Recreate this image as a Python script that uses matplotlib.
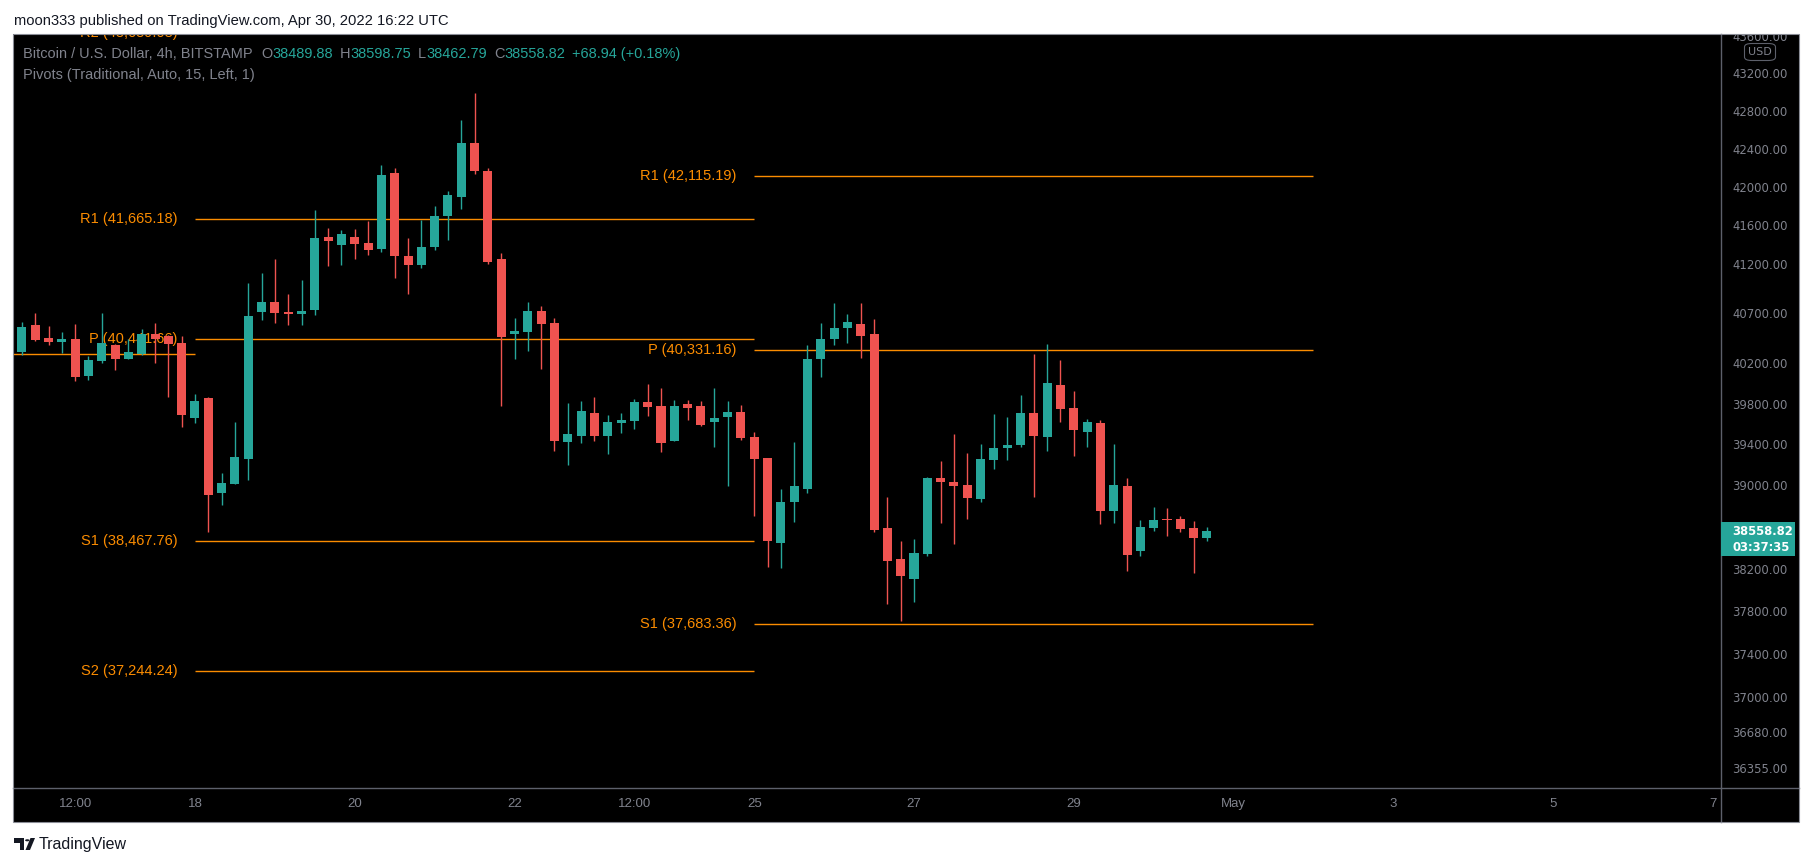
import numpy as np
import pandas as pd
import matplotlib
matplotlib.use("Agg")
import matplotlib.pyplot as plt
import matplotlib.dates as mdates
import matplotlib.transforms as mtransforms
from matplotlib.patches import Rectangle, FancyBboxPatch, Polygon, Circle
from matplotlib.lines import Line2D
from matplotlib.ticker import FixedLocator, FixedFormatter, NullLocator, NullFormatter

# ---------------- data ----------------
start_time = "2022-04-15 20:00"   # first visible 4h bar
opens = [40313, 40584, 40457, 40417, 40443, 40074, 40223, 40383, 40243, 40293,
         40493, 40473, 40403, 39661, 39855, 38930, 39017, 39260, 40719, 40816,
         40715, 40698, 40739, 41480, 41398, 41480, 41418, 41357, 42144, 41285,
         41193, 41377, 41697, 41894, 42459, 42165, 41254, 40493, 40514, 40725,
         40604, 39422, 39481, 39707, 39484, 39612, 39632, 39816, 39776, 39435,
         39796, 39776, 39622, 39671, 39717, 39471, 39266, 38450, 38843, 38969,
         40246, 40447, 40557, 40594, 40493, 38590, 38294, 38108, 38345, 39072,
         39033, 39004, 38872, 39250, 39367, 39396, 39707, 39475, 39984, 39757,
         39524, 39609, 38750, 38994, 38373, 38593, 38679, 38676, 38590, 38489.88]
highs = [40614, 40708, 40577, 40514, 40594, 40273, 40708, 40390, 40443, 40544,
         40604, 40483, 40473, 39895, 39860, 39120, 39619, 41013, 41115, 41254,
         40901, 41040, 41759, 41573, 41552, 41562, 41645, 42228, 42197, 41470,
         41655, 41800, 41956, 42702, 42989, 42197, 41316, 40655, 40816, 40776,
         40655, 39806, 39826, 39865, 39687, 39707, 39845, 39994, 39954, 39836,
         39836, 39826, 39954, 39826, 39786, 39520, 39270, 38965, 39422, 40383,
         40604, 40806, 40695, 40806, 40645, 38888, 38466, 38485, 39080, 39237,
         39501, 39315, 39403, 39697, 39668, 39885, 40293, 40393, 40233, 39925,
         39648, 39638, 39403, 39072, 38667, 38792, 38782, 38705, 38657, 38598.75]
lows = [40286, 40423, 40383, 40306, 40027, 40037, 40206, 40133, 40238, 40283,
        40203, 39868, 39573, 39612, 38555, 38814, 39010, 39056, 40638, 40608,
        40587, 40587, 40688, 41186, 41196, 41258, 41299, 41326, 41064, 40901,
        41166, 41346, 41449, 41769, 42134, 41203, 39780, 40243, 40323, 40143,
        39334, 39198, 39413, 39432, 39308, 39514, 39553, 39681, 39328, 39430,
        39642, 39583, 39377, 38998, 39445, 38708, 38221, 38212, 38651, 38930,
        40067, 40386, 40406, 40256, 38555, 37872, 37713, 37891, 38326, 38641,
        38440, 38679, 38843, 39162, 39250, 39377, 38891, 39338, 39622, 39289,
        39377, 38631, 38641, 38183, 38326, 38564, 38517, 38555, 38164, 38462.79]
closes = [40564, 40433, 40417, 40443, 40067, 40233, 40403, 40243, 40313, 40493,
          40443, 40393, 39691, 39826, 38910, 39023, 39276, 40675, 40816, 40708,
          40698, 40729, 41470, 41439, 41511, 41408, 41346, 42123, 41285, 41193,
          41377, 41697, 41915, 42459, 42169, 41224, 40463, 40524, 40725, 40594,
          39432, 39501, 39727, 39481, 39619, 39638, 39816, 39770, 39416, 39776,
          39760, 39592, 39658, 39717, 39465, 39260, 38469, 38840, 38994, 40243,
          40443, 40554, 40614, 40477, 38574, 38278, 38136, 38351, 39072, 39036,
          38998, 38882, 39256, 39364, 39393, 39707, 39484, 40004, 39750, 39543,
          39619, 38756, 39004, 38335, 38599, 38667, 38670, 38583, 38489.88, 38558.82]

# weekly traditional pivots
week1_start, week1_end = "2022-04-18 00:00", "2022-04-25 00:00"
week1_names = ["R2", "R1", "P", "S1", "S2"]
week1_levels = [43639.08, 41665.18, 40441.66, 38467.76, 37244.24]
week2_start, week2_end = "2022-04-25 00:00", "2022-05-02 00:00"
week2_names = ["R1", "P", "S1"]
week2_levels = [42115.19, 40331.16, 37683.36]
week0_start, week0_end = "2022-04-11 00:00", "2022-04-18 00:00"
week0_levels = [40290.0]           # previous week's pivot (label off-screen)

# axes ticks
price_ticks = [36355, 36680, 37000, 37400, 37800, 38200, 39000, 39400,
               39800, 40200, 40700, 41200, 41600, 42000, 42400, 42800, 43200, 43600]
time_ticks = ["2022-04-16 12:00", "2022-04-18 00:00", "2022-04-20 00:00", "2022-04-22 00:00",
              "2022-04-23 12:00", "2022-04-25 00:00", "2022-04-27 00:00", "2022-04-29 00:00",
              "2022-05-01 00:00", "2022-05-03 00:00", "2022-05-05 00:00", "2022-05-07 00:00"]
time_labels = ["12:00", "18", "20", "22", "12:00", "25", "27", "29", "May", "3", "5", "7"]

header_title = "Bitcoin / U.S. Dollar, 4h, BITSTAMP"
indicator_title = "Pivots (Traditional, Auto, 15, Left, 1)"
publish_text = "moon333 published on TradingView.com, Apr 30, 2022 16:22 UTC"
countdown = "03:37:35"

# ---------------- style ----------------
W, H, DPI = 1813, 866, 100
UP, DOWN = "#26A69A", "#EF5350"
ORANGE = "#FB8C00"
GRAY = "#80838D"
SEP = "#5D606B"
SANS = ["Liberation Sans", "DejaVu Sans"]
AXF = ["DejaVu Sans"]


def fx(px):
    return px / W


def fy(py):
    return 1 - py / H


def dnum(s):
    return mdates.date2num(pd.Timestamp(s).to_pydatetime())


fig = plt.figure(figsize=(W / DPI, H / DPI), dpi=DPI, facecolor="white")

# black panel behind everything
L_PX, R_PX, T_PX, B_PX = 12.7, 1799.3, 34.0, 822.0
AX_R, AX_B = 1720.5, 787.7
fig.add_artist(Rectangle((fx(L_PX), fy(B_PX)), fx(R_PX) - fx(L_PX), fy(T_PX) - fy(B_PX),
                         transform=fig.transFigure, facecolor="black", edgecolor="none", zorder=-5))

ax = fig.add_axes([fx(L_PX), fy(AX_B), fx(AX_R) - fx(L_PX), fy(T_PX) - fy(AX_B)])
ax.set_facecolor("black")
for s in ax.spines.values():
    s.set_visible(False)

# ---------------- candles ----------------
times = pd.date_range(start_time, periods=len(opens), freq="4h")
t = mdates.date2num(times.to_pydatetime())
o = np.array(opens, float); h = np.array(highs, float)
l = np.array(lows, float); c = np.array(closes, float)
up = c >= o
cols = np.where(up, UP, DOWN)
ax.vlines(t, l, h, colors=cols, lw=1.0, zorder=3)
lo = np.minimum(o, c); hi = np.maximum(o, c)
ht = np.maximum(hi - lo, lo * 0.00025)
ax.bar(t, ht, bottom=lo, width=0.113, color=cols, linewidth=0, zorder=4)

# ---------------- pivots ----------------
lab_tr = mtransforms.offset_copy(ax.transData, fig=fig, x=-12.5, y=0, units="points")


def draw_pivots(s, e, names, levels, labels=True):
    x0 = dnum(s); x1 = dnum(e)
    for i, v in enumerate(levels):
        ax.hlines(v, x0, x1, colors=ORANGE, lw=1.0, zorder=2)
        if labels:
            ax.text(x0, v, f"{names[i]} ({v:,.2f})", transform=lab_tr, ha="right", va="center",
                    color=ORANGE, fontsize=10.5, family=SANS, zorder=1.5, clip_on=True)


draw_pivots(week0_start, week0_end, None, week0_levels, labels=False)
draw_pivots(week1_start, week1_end, week1_names, week1_levels)
draw_pivots(week2_start, week2_end, week2_names, week2_levels)

# ---------------- axes ----------------
base = dnum("2022-04-18 00:00")
ax.set_xlim(base - 2.2816, base + 19.095)
ax.set_yscale("log")
ax.set_ylim(36180, 43623)
ax.yaxis.tick_right()
ax.yaxis.set_major_locator(FixedLocator(price_ticks))
ax.yaxis.set_major_formatter(FixedFormatter([f"{v:.2f}" for v in price_ticks]))
ax.yaxis.set_minor_locator(NullLocator())
ax.yaxis.set_minor_formatter(NullFormatter())
ax.tick_params(axis="y", length=0, pad=8.5, labelsize=8.4, labelcolor=GRAY)
for lab in ax.get_yticklabels():
    lab.set_family(AXF)
ax.xaxis.set_major_locator(FixedLocator([dnum(s) for s in time_ticks]))
ax.xaxis.set_major_formatter(FixedFormatter(time_labels))
ax.xaxis.set_minor_locator(NullLocator())
ax.tick_params(axis="x", length=0, pad=7.5, labelsize=9.5, labelcolor=GRAY)
for lab in ax.get_xticklabels():
    lab.set_family(SANS)
ax.grid(False)

# separators and border
fig.add_artist(Line2D([fx(L_PX), fx(R_PX)], [fy(AX_B), fy(AX_B)], transform=fig.transFigure,
                      color=SEP, lw=1.0, zorder=6))
fig.add_artist(Line2D([fx(AX_R), fx(AX_R)], [fy(T_PX), fy(B_PX)], transform=fig.transFigure,
                      color=SEP, lw=1.0, zorder=6))

# white band above the panel (hides clipped top tick label)
fig.add_artist(Rectangle((0, fy(T_PX)), 1, 1 - fy(T_PX), transform=fig.transFigure,
                         facecolor="white", edgecolor="none", zorder=5))
fig.add_artist(Rectangle((fx(L_PX), fy(B_PX)), fx(R_PX) - fx(L_PX), fy(T_PX) - fy(B_PX),
                         transform=fig.transFigure, facecolor="none", edgecolor="#8A8D96",
                         lw=0.8, zorder=7))

# USD badge
fig.add_artist(FancyBboxPatch((fx(1744.5), fy(60.5)), fx(1775.5) - fx(1744.5), fy(43.5) - fy(60.5),
                              boxstyle="round,pad=0,rounding_size=0.004", transform=fig.transFigure,
                              facecolor="black", edgecolor="#5D606B", lw=0.8, zorder=6))
fig.text(fx(1760), fy(52.3), "USD", ha="center", va="center", fontsize=8, color=GRAY,
         family=AXF, zorder=7)

# last price box
fig.add_artist(Rectangle((fx(AX_R), fy(556)), fx(1795) - fx(AX_R), fy(522.3) - fy(556),
                         transform=fig.transFigure, facecolor=UP, edgecolor="none", zorder=6))
fig.text(fx(1732.3), fy(531.5), f"{closes[-1]:.2f}", ha="left", va="center", fontsize=8.4,
         color="white", weight="bold", family=AXF, zorder=7)
fig.text(fx(1732.3), fy(547.5), countdown, ha="left", va="center", fontsize=8.4,
         color="white", weight="bold", family=AXF, zorder=7)

# header texts
renderer = fig.canvas.get_renderer()


def seq_text(x_px, y_px, pieces, size):
    x = x_px
    for s, col, gap in pieces:
        tx = fig.text(fx(x), fy(y_px), s, color=col, fontsize=size, family=SANS,
                      ha="left", va="center", zorder=8)
        x += tx.get_window_extent(renderer).width + gap


chg = closes[-1] - closes[-2]
pct = chg / closes[-2] * 100
seq_text(23.3, 54, [(header_title, GRAY, 8),
                    ("O", GRAY, 0), (f"{opens[-1]:.2f}", UP, 7),
                    ("H", GRAY, 0), (f"{highs[-1]:.2f}", UP, 7),
                    ("L", GRAY, 0), (f"{lows[-1]:.2f}", UP, 7),
                    ("C", GRAY, 0), (f"{closes[-1]:.2f}", UP, 7),
                    (f"{chg:+.2f} ({pct:+.2f}%)", UP, 0)], 10.45)
fig.text(fx(23.3), fy(75), indicator_title, color=GRAY, fontsize=10.45, family=SANS,
         ha="left", va="center", zorder=8)
fig.text(fx(14), fy(21), publish_text, color="#131722", fontsize=10.6, family=SANS,
         ha="left", va="center", zorder=8)

# TradingView footer logo
LOGO = "#131722"
fig.add_artist(Polygon([(fx(14), fy(838)), (fx(24), fy(838)), (fx(24), fy(850)),
                        (fx(19.5), fy(850)), (fx(19.5), fy(842.5)), (fx(14), fy(842.5))],
                       closed=True, transform=fig.transFigure, facecolor=LOGO, edgecolor="none", zorder=8))
fig.add_artist(Circle((fx(27.3), fy(840.3)), 2.2 / W, transform=fig.transFigure,
                      facecolor=LOGO, edgecolor="none", zorder=8))
fig.add_artist(Polygon([(fx(25.5), fy(850)), (fx(30.5), fy(838)), (fx(35), fy(838)), (fx(30), fy(850))],
                       closed=True, transform=fig.transFigure, facecolor=LOGO, edgecolor="none", zorder=8))
fig.text(fx(39), fy(844.5), "TradingView", color=LOGO, fontsize=11.5, family=SANS,
         ha="left", va="center", zorder=8)

fig.savefig("out.png", dpi=DPI, facecolor="white")
